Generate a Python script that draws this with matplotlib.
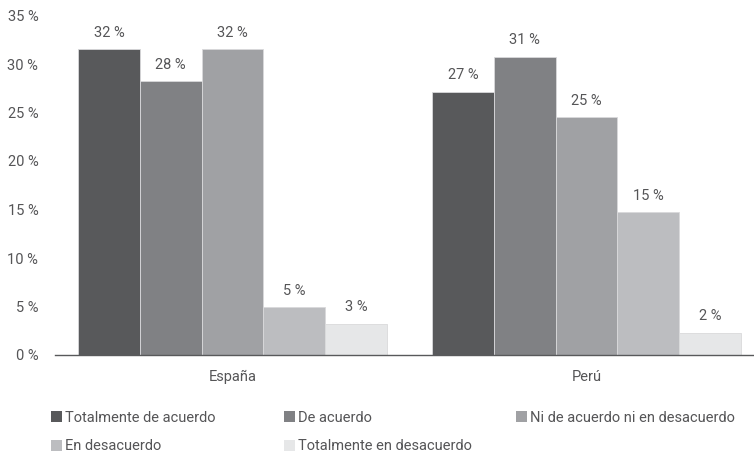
import matplotlib.pyplot as plt
import numpy as np

plt.rcParams['font.family'] = ['Roboto', 'DejaVu Sans']

paisos = ['España', 'Perú']
respostes = ['Totalmente de acuerdo', 'De acuerdo', 'Ni de acuerdo ni en desacuerdo',
             'En desacuerdo', 'Totalmente en desacuerdo']
# valors per resposta: [España, Perú]
totalment_acord = [31.5, 27.1]
acord = [28.2, 30.7]
ni_acord = [31.5, 24.5]
desacord = [4.9, 14.7]
totalment_desacord = [3.2, 2.3]
etiquetes = [['32 %', '27 %'], ['28 %', '31 %'], ['32 %', '25 %'], ['5 %', '15 %'], ['3 %', '2 %']]

colors = ['#58595b', '#808184', '#a0a1a4', '#bcbdc0', '#e6e7e8']
text_color = '#555557'

series = [totalment_acord, acord, ni_acord, desacord, totalment_desacord]

fig = plt.figure(figsize=(7.54, 4.54), dpi=100)
ax = fig.add_axes([55 / 754, 1 - 355 / 454, 699 / 754, (355 - 15.5) / 454])

x = np.arange(len(paisos))
w = 0.1743
barres = []
for i, (vals, col) in enumerate(zip(series, colors)):
    b = ax.bar(x + (i - 2) * w, vals, w, color=col, edgecolor='#d9d9db', linewidth=0.6,
               label=respostes[i])
    ax.bar_label(b, labels=etiquetes[i], padding=7, fontsize=10.5, color=text_color)
    barres.append(b)

ax.set_ylim(0, 35)
ax.set_xlim(-0.501, 1.473)
ax.set_yticks(range(0, 36, 5))
ax.set_yticklabels([f'{v} %' for v in range(0, 36, 5)])
ax.set_xticks(x)
ax.set_xticklabels(paisos)
ax.tick_params(axis='both', length=0, labelsize=10.5, labelcolor=text_color)
ax.tick_params(axis='y', pad=12)
ax.tick_params(axis='x', pad=11)
for s in ['top', 'right', 'left']:
    ax.spines[s].set_visible(False)
ax.spines['bottom'].set_color('#58595b')
ax.spines['bottom'].set_linewidth(1.0)

# llegenda en tres columnes
columnes = [[0, 3], [1, 4], [2]]
xs = [45, 278, 510]
for cols, xl in zip(columnes, xs):
    leg = fig.legend([barres[k] for k in cols], [respostes[k] for k in cols],
                     loc='upper left', bbox_to_anchor=(xl / 754, 1 - 405 / 454),
                     frameon=False, fontsize=10.5, handlelength=0.75, handleheight=0.75,
                     handletextpad=0.2, labelspacing=1.0, borderaxespad=0)
    for t in leg.get_texts():
        t.set_color(text_color)
    for h in leg.legend_handles:
        h.set_edgecolor('none')

fig.savefig('out.png', dpi=100)
